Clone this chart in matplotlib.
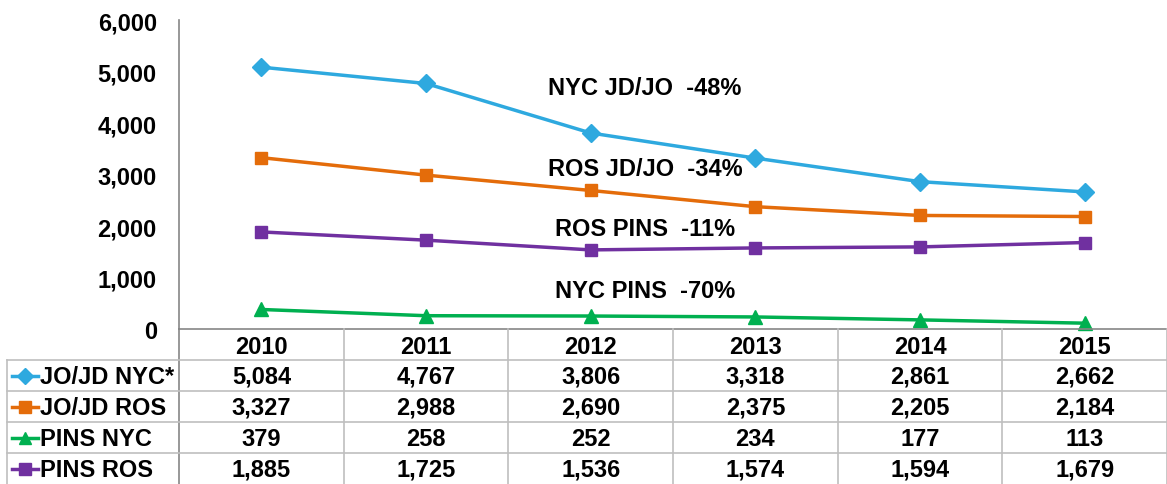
import numpy as np
import matplotlib
matplotlib.use("Agg")
import matplotlib.pyplot as plt

# --- data ---
years = ["2010", "2011", "2012", "2013", "2014", "2015"]
series_names = ["JO/JD NYC*", "JO/JD ROS", "PINS NYC", "PINS ROS"]
jojd_nyc = [5084, 4767, 3806, 3318, 2861, 2662]
jojd_ros = [3327, 2988, 2690, 2375, 2205, 2184]
pins_nyc = [379, 258, 252, 234, 177, 113]
pins_ros = [1885, 1725, 1536, 1574, 1594, 1679]
notes = ["NYC JD/JO  -48%", "ROS JD/JO  -34%", "ROS PINS  -11%", "NYC PINS  -70%"]
note_y = [4680, 3110, 1950, 740]

# --- style ---
colors = ["#2EA9DF", "#E46C0A", "#00B050", "#7030A0"]
markers = ["D", "s", "^", "s"]
msizes = [9.5, 9, 10, 9]
plt.rcParams["font.family"] = ["Liberation Sans", "DejaVu Sans"]
plt.rcParams["font.weight"] = "bold"
FS = 17

W, H = 1167, 485
fig = plt.figure(figsize=(W / 100, H / 100), dpi=100)

x0, x1 = 179, 1167      # plot area, pixels
ytop, ybot = 21, 330
col_w = (x1 - x0) / 6

ax = fig.add_axes([x0 / W, 1 - ybot / H, (x1 - x0) / W, (ybot - ytop) / H])
xs = np.arange(len(years))
all_series = [jojd_nyc, jojd_ros, pins_nyc, pins_ros]
for vals, c, m, ms in zip(all_series, colors, markers, msizes):
    ax.plot(xs, vals, color=c, lw=2.5, marker=m, ms=ms, clip_on=False)

ax.set_xlim(-0.5, 5.5)
ax.set_ylim(0, 6000)
ax.set_yticks(range(0, 6001, 1000))
ax.set_yticklabels([f"{v:,}" for v in range(0, 6001, 1000)], fontsize=FS, fontweight="bold")
ax.tick_params(axis="y", length=0, pad=16)
ax.set_xticks([])
for s in ["top", "right"]:
    ax.spines[s].set_visible(False)
ax.spines["left"].set_color("#868686")
ax.spines["bottom"].set_color("#868686")
ax.spines["left"].set_linewidth(1.2)
ax.spines["bottom"].set_linewidth(1.2)

for t, yv in zip(notes, note_y):
    ax.text(2.33, yv, t, ha="center", va="center", fontsize=FS, fontweight="bold")

# --- data table below ---
tl = 7
ta = fig.add_axes([tl / W, 0, (x1 - tl) / W, (H - ybot) / H])
xl = -0.5 - (x0 - tl) / col_w
ta.set_xlim(xl, 5.5)
ta.set_ylim(5, 0)
ta.axis("off")
grid = "#BFBFBF"

for i in range(7):
    ta.plot([i - 0.5, i - 0.5], [0, 5], color=grid if i > 0 else "#868686", lw=1.2, clip_on=False)
ta.plot([xl, xl], [1, 5], color=grid, lw=1.2, clip_on=False)
for r in range(1, 5):
    ta.plot([xl, 5.5], [r, r], color=grid, lw=1.2, clip_on=False)

for j, y in enumerate(years):
    ta.text(j, 0.55, y, ha="center", va="center", fontsize=FS, fontweight="bold")

px = 1 / col_w
for r, (name, vals, c, m, ms) in enumerate(zip(series_names, all_series, colors, markers, msizes)):
    yc = r + 1.5
    ta.plot([xl + 5 * px, xl + 31 * px], [yc, yc], color=c, lw=2.5)
    ta.plot([xl + 18 * px], [yc], color=c, marker=m, ms=ms - 1)
    ta.text(xl + 33 * px, yc + 0.03, name, ha="left", va="center", fontsize=FS, fontweight="bold")
    for j, v in enumerate(vals):
        ta.text(j, yc + 0.03, f"{v:,}", ha="center", va="center", fontsize=FS, fontweight="bold")

fig.savefig("out.png", dpi=100)
